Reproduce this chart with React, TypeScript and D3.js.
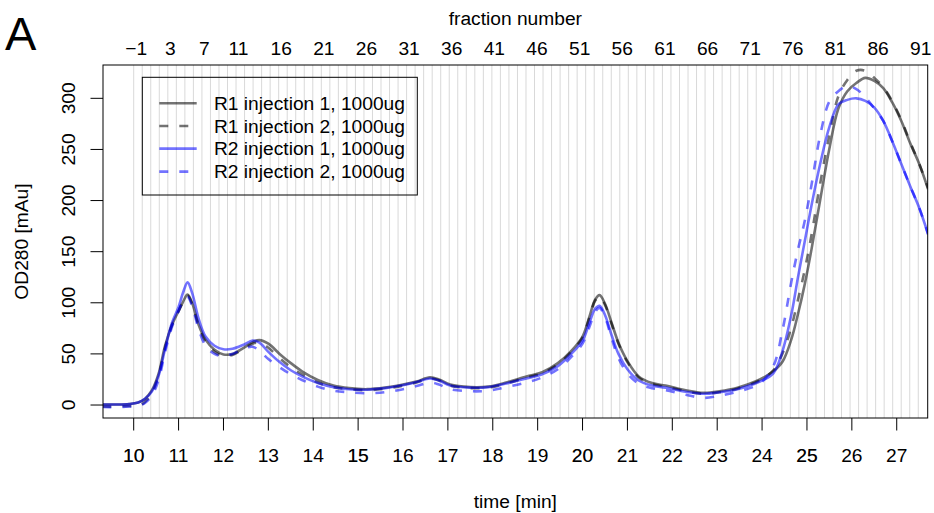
import React from "react";
import * as d3 from "d3";

// ---- data ----
const times = [
  9.3, 9.6, 9.9, 10.1, 10.25, 10.4, 10.55, 10.7, 10.85, 11.0, 11.1, 11.2, 11.3, 11.45, 11.6, 11.8,
  12.0, 12.2, 12.45, 12.65, 12.8, 13.0, 13.25, 13.5, 13.75, 14.1, 14.45, 14.8, 15.2, 15.6, 15.95,
  16.3, 16.6, 16.8, 17.05, 17.5, 17.9, 18.3, 18.75, 19.1, 19.45, 19.75, 20.0, 20.15, 20.28, 20.38,
  20.5, 20.65, 20.8, 21.0, 21.25, 21.55, 21.85, 22.3, 22.7, 23.05, 23.45, 23.95, 24.25, 24.45,
  24.65, 24.8, 24.95, 25.1, 25.3, 25.5, 25.7, 25.9, 26.1, 26.3, 26.5, 26.7, 26.9, 27.1, 27.3, 27.5, 27.7,
];
const r1Injection1 = [
  0.5, 0.5, 1, 2.5, 6, 14, 30, 58, 78, 92, 101, 108, 100, 78, 64, 54, 49.5, 50, 56, 61.5, 63.5, 60,
  50, 41, 33, 24.5, 19, 16.5, 15.5, 17, 19.5, 23, 27, 25, 20, 17.5, 18, 22, 28, 32, 41, 53, 67, 86,
  103, 107.5, 99, 80, 61, 43, 28, 21.5, 19, 14.5, 12, 13.5, 17, 25, 33, 42, 64, 89, 118, 152, 202,
  251, 290, 307, 315, 320, 317, 310, 296, 278, 256, 236, 211,
];
const r1Injection2 = [
  -1.5, -1.5, -1, -1, 3, 11, 28, 56, 78, 92, 101, 107, 99, 77, 62, 52, 48, 49, 55, 60, 61, 56, 46,
  37, 30, 22, 17.5, 15.5, 14.5, 16, 18.5, 22, 26, 24, 19, 16.5, 17, 21, 27, 31, 40, 52, 66, 85, 102,
  106, 98, 79, 60, 42, 27, 20.5, 18, 13.5, 11, 12.5, 16, 24, 34, 50, 76, 103, 132, 166, 218, 264,
  302, 318, 327, 327, 320, 311, 297, 279, 257, 236, 212,
];
const r2Injection1 = [
  0.5, 0.5, 1, 2.5, 6, 13, 28, 55, 80, 96, 110, 120, 110, 84, 67, 58, 54.5, 55, 59, 63, 61, 52, 42,
  34, 28, 21.5, 17.5, 15.5, 15, 16.5, 19, 22.5, 26, 24, 19, 17, 17.5, 21, 26, 30, 38, 50, 63, 80,
  94, 97, 88, 68, 50, 35, 24, 19, 17, 13, 11, 12.5, 15.5, 23, 31, 52, 88, 125, 160, 195, 237, 272,
  294, 298.5, 300, 297.5, 291, 278, 258, 236, 214, 193, 167,
];
const r2Injection2 = [
  -2, -2, -1.5, -1, 2, 9, 24, 52, 76, 92, 102, 106, 97, 74, 58, 50, 48, 50, 55, 57, 53, 45, 37, 30,
  24.5, 18, 14, 12.5, 11.5, 12.5, 15, 18.5, 22, 20, 15.5, 13.5, 14, 17.5, 22, 27, 35, 47, 60, 76,
  91, 95, 86, 65, 46, 31, 21, 16.5, 14.5, 10, 7, 9, 13, 21, 38, 72, 120, 152, 180, 215, 265, 297,
  307, 312, 309, 301, 290, 278, 258, 236, 214, 193, 167,
];

const seriesNames = [
  "R1 injection 1, 1000ug",
  "R1 injection 2, 1000ug",
  "R2 injection 1, 1000ug",
  "R2 injection 2, 1000ug",
];
const timeTicks = [10, 11, 12, 13, 14, 15, 16, 17, 18, 19, 20, 21, 22, 23, 24, 25, 26, 27];
const defaultTimeTicks = [10, 15, 20, 25];
const yTicks = [0, 50, 100, 150, 200, 250, 300];
const fractionNumbers = d3.range(-1, 92);
const fractionLabels = [-1, 3, 7, 11, 16, 21, 26, 31, 36, 41, 46, 51, 56, 61, 66, 71, 76, 81, 86, 91];
const fractionStartTime = 10; // time of fraction -1
const fractionDuration = 0.19; // minutes per fraction

// ---- styling ----
const FONT = "'Liberation Sans', Arial, Helvetica, sans-serif";
const grayCol = "rgba(0,0,0,0.55)";
const blueCol = "rgba(0,0,255,0.55)";
const seriesStyle = [
  { color: grayCol, dash: null },
  { color: grayCol, dash: "9,11" },
  { color: blueCol, dash: null },
  { color: blueCol, dash: "9,11" },
];

export default function App() {
  const W = 934, H = 513;
  const left = 103, right = 927.7, top = 65, bottom = 418;
  const x = d3.scaleLinear().domain([9.316, 27.69]).range([left, right]);
  const y = d3.scaleLinear().domain([-12.7, 332.6]).range([bottom, top]);
  const fracX = (f: number) => x(fractionStartTime + (f + 1) * fractionDuration);

  const seriesData = [r1Injection1, r1Injection2, r2Injection1, r2Injection2];
  const line = d3
    .line<number>()
    .x((_, i) => x(times[i]))
    .y((d) => y(d))
    .curve(d3.curveCatmullRom.alpha(0.5));

  const fs = 19.2;
  const legendRowsY = [103.3, 126, 148.6, 171.6];

  return (
    <svg
      width={W}
      height={H}
      style={{ position: "absolute", left: 0, top: 0, background: "#fff" }}
      fontFamily={FONT}
    >
      <rect x={0} y={0} width={W} height={H} fill="#fff" />
      <defs>
        <clipPath id="plotClip">
          <rect x={left} y={top} width={right - left} height={bottom - top} />
        </clipPath>
      </defs>

      {/* fraction grid lines */}
      <g>
        {fractionNumbers.map((f) => {
          const xx = fracX(f);
          if (xx < left || xx > right) return null;
          return <line key={f} x1={xx} x2={xx} y1={top} y2={bottom} stroke="#d9d9d9" strokeWidth={1} />;
        })}
      </g>

      {/* curves */}
      <g clipPath="url(#plotClip)">
        {seriesData.map((s, i) => (
          <path
            key={i}
            d={line(s) || ""}
            fill="none"
            stroke={seriesStyle[i].color}
            strokeWidth={2.6}
            strokeDasharray={seriesStyle[i].dash || undefined}
            strokeLinejoin="round"
          />
        ))}
      </g>

      {/* plot box */}
      <rect x={left} y={top} width={right - left} height={bottom - top} fill="none" stroke="#000" strokeWidth={1} />

      {/* bottom axis */}
      <g>
        {timeTicks.map((t) => (
          <g key={t}>
            <line x1={x(t)} x2={x(t)} y1={bottom} y2={bottom + 12.5} stroke="#000" strokeWidth={1} />
            <text x={x(t)} y={461.8} textAnchor="middle" fontSize={fs}>{t}</text>
          </g>
        ))}
        {defaultTimeTicks.map((t) => (
          <text key={"d" + t} x={x(t)} y={461.8} textAnchor="middle" fontSize={fs} opacity={0.6}>{t}</text>
        ))}
      </g>
      <text x={(left + right) / 2} y={508} textAnchor="middle" fontSize={fs}>time [min]</text>

      {/* left axis */}
      <g>
        {yTicks.map((v) => (
          <g key={v}>
            <line x1={left - 12.5} x2={left} y1={y(v)} y2={y(v)} stroke="#000" strokeWidth={1} />
            <text
              transform={`translate(${75},${y(v)}) rotate(-90)`}
              textAnchor="middle"
              fontSize={fs}
            >
              {v}
            </text>
          </g>
        ))}
      </g>
      <text
        transform={`translate(${28},${(top + bottom) / 2}) rotate(-90)`}
        textAnchor="middle"
        fontSize={fs}
      >
        OD280 [mAu]
      </text>

      {/* top axis (fraction number) */}
      <g>
        {fractionLabels.map((f) => (
          <text key={f} x={fracX(f) + 2.5} y={55} textAnchor="middle" fontSize={fs}>
            {f < 0 ? "\u2212" + Math.abs(f) : String(f)}
          </text>
        ))}
      </g>
      <text x={(left + right) / 2} y={25} textAnchor="middle" fontSize={fs}>fraction number</text>

      {/* panel letter */}
      <text x={5} y={50} fontSize={47}>A</text>

      {/* legend */}
      <g>
        <rect x={142.3} y={77.3} width={275} height={117.7} fill="none" stroke="#000" strokeWidth={1} />
        {seriesNames.map((n, i) => (
          <g key={n}>
            <line
              x1={159.3}
              x2={196.7}
              y1={legendRowsY[i]}
              y2={legendRowsY[i]}
              stroke={seriesStyle[i].color}
              strokeWidth={2.6}
              strokeDasharray={seriesStyle[i].dash || undefined}
            />
            <text x={214} y={legendRowsY[i] + 6.8} fontSize={fs}>{n}</text>
          </g>
        ))}
      </g>
    </svg>
  );
}
